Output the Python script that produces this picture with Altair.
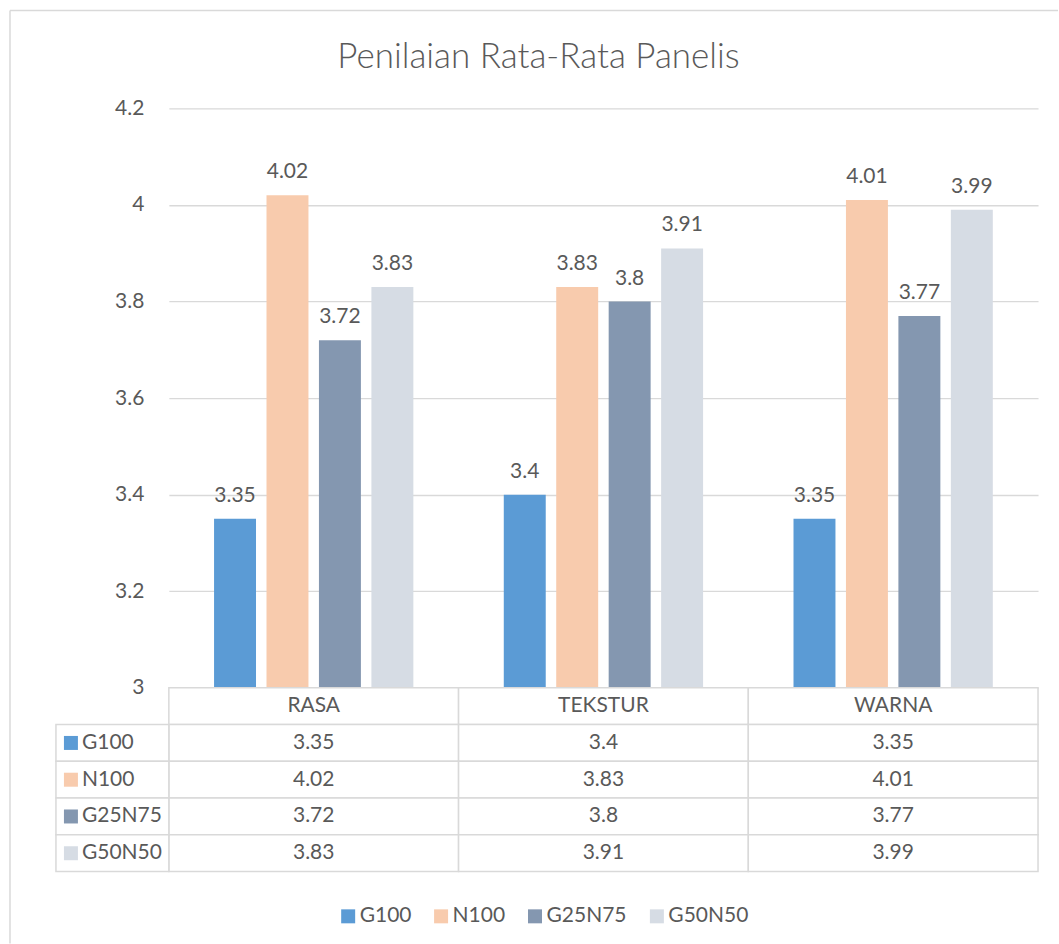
import altair as alt
import pandas as pd

categories = ["RASA", "TEKSTUR", "WARNA"]
series = ["G100", "N100", "G25N75", "G50N50"]
g100 = [3.35, 3.4, 3.35]
n100 = [4.02, 3.83, 4.01]
g25n75 = [3.72, 3.8, 3.77]
g50n50 = [3.83, 3.91, 3.99]
colors = ["#5B9BD5", "#F8CBAD", "#8497B0", "#D6DCE4"]
y_ticks = [3, 3.2, 3.4, 3.6, 3.8, 4, 4.2]
title_text = "Penilaian Rata-Rata Panelis"

series_values = {"G100": g100, "N100": n100, "G25N75": g25n75, "G50N50": g50n50}

rows = []
for s in series:
    for c, v in zip(categories, series_values[s]):
        rows.append({"category": c, "series": s, "value": v, "label": f"{v:g}"})
df = pd.DataFrame(rows)

tab_rows = []
for c in categories:
    tab_rows.append({"category": c, "row": "header", "text": c})
for s in series:
    for c, v in zip(categories, series_values[s]):
        tab_rows.append({"category": c, "row": s, "text": f"{v:g}"})
tab = pd.DataFrame(tab_rows)
left = pd.DataFrame({"row": series, "series": series})
frame = pd.DataFrame({"k": [0]})

FONT = "Lato"
TEXT = "#595959"
GRID = "#D9D9D9"
W = 870
H_BAR = 580
H_TAB = 184
FS = 21

xscale = alt.Scale(domain=categories, paddingInner=0, paddingOuter=0)
cscale = alt.Scale(domain=series, range=colors)

bars_base = alt.Chart(df).encode(
    x=alt.X("category:N", scale=xscale, axis=None),
    xOffset=alt.XOffset("series:N", scale=alt.Scale(domain=series, paddingInner=0.2, paddingOuter=0.862)),
)
bars = bars_base.mark_bar().encode(
    y=alt.Y(
        "value:Q",
        scale=alt.Scale(domain=[3, 4.2], zero=False, nice=False),
        axis=alt.Axis(
            values=y_ticks, format="~g", title=None, grid=True, gridColor=GRID, gridWidth=1.3,
            domain=False, ticks=False, labelPadding=25, labelFontSize=FS, labelColor=TEXT, labelFont=FONT,
        ),
    ),
    y2=alt.datum(3),
    color=alt.Color(
        "series:N", scale=cscale,
        legend=alt.Legend(
            orient="none", legendX=169, legendY=798, direction="horizontal", title=None,
            symbolType="square", symbolSize=196, symbolStrokeWidth=0, labelFontSize=FS, labelFont=FONT,
            labelColor=TEXT, labelOffset=1, columnPadding=19,
        ),
    ),
)
bar_labels = bars_base.mark_text(baseline="alphabetic", dy=-17, fontSize=FS, color=TEXT, font=FONT).encode(
    y=alt.Y("value:Q"), text="label:N"
)
top = alt.layer(bars, bar_labels).properties(
    width=W, height=H_BAR,
    title=alt.Title(title_text, fontSize=35, font=FONT, fontWeight=300, color=TEXT,
                    anchor="middle", dx=-65, offset=22),
)

yrow = alt.Y("row:N", scale=alt.Scale(domain=["header"] + series, paddingInner=0, paddingOuter=0), axis=None)
xcat = alt.X("category:N", scale=xscale, axis=None)

cell_rects = alt.Chart(tab).mark_rect(fill="white", stroke=GRID, strokeWidth=1.5).encode(x=xcat, y=yrow)
cell_text = alt.Chart(tab).mark_text(fontSize=FS, color=TEXT, font=FONT).encode(x=xcat, y=yrow, text="text:N")
left_rects = alt.Chart(left).mark_rect(fill="white", stroke=GRID, strokeWidth=1.5).encode(
    x=alt.value(-113), x2=alt.value(0), y=yrow
)
left_squares = alt.Chart(left).mark_square(size=196, opacity=1).encode(
    x=alt.value(-98), y=yrow, color=alt.Color("series:N", scale=cscale, legend=None)
)
left_text = alt.Chart(left).mark_text(align="left", fontSize=FS, color=TEXT, font=FONT).encode(
    x=alt.value(-87), y=yrow, text="row:N"
)
frame_top = alt.Chart(frame).mark_rule(color=GRID, strokeWidth=1.5).encode(
    x=alt.value(-159), x2=alt.value(890), y=alt.value(-678)
)
frame_left = alt.Chart(frame).mark_rule(color=GRID, strokeWidth=1.5).encode(
    x=alt.value(-159), y=alt.value(-678), y2=alt.value(256)
)
bottom = alt.layer(cell_rects, cell_text, left_rects, left_squares, left_text, frame_top, frame_left).properties(
    width=W, height=H_TAB
)

chart = (
    alt.vconcat(top, bottom, spacing=0, bounds="flush")
    .resolve_scale(color="independent")
    .properties(padding={"left": 9, "top": 9, "right": 0, "bottom": 0}, background="white")
    .configure_view(strokeWidth=0)
)

chart.save("out.html", embed_options={"renderer": "svg", "actions": False})
